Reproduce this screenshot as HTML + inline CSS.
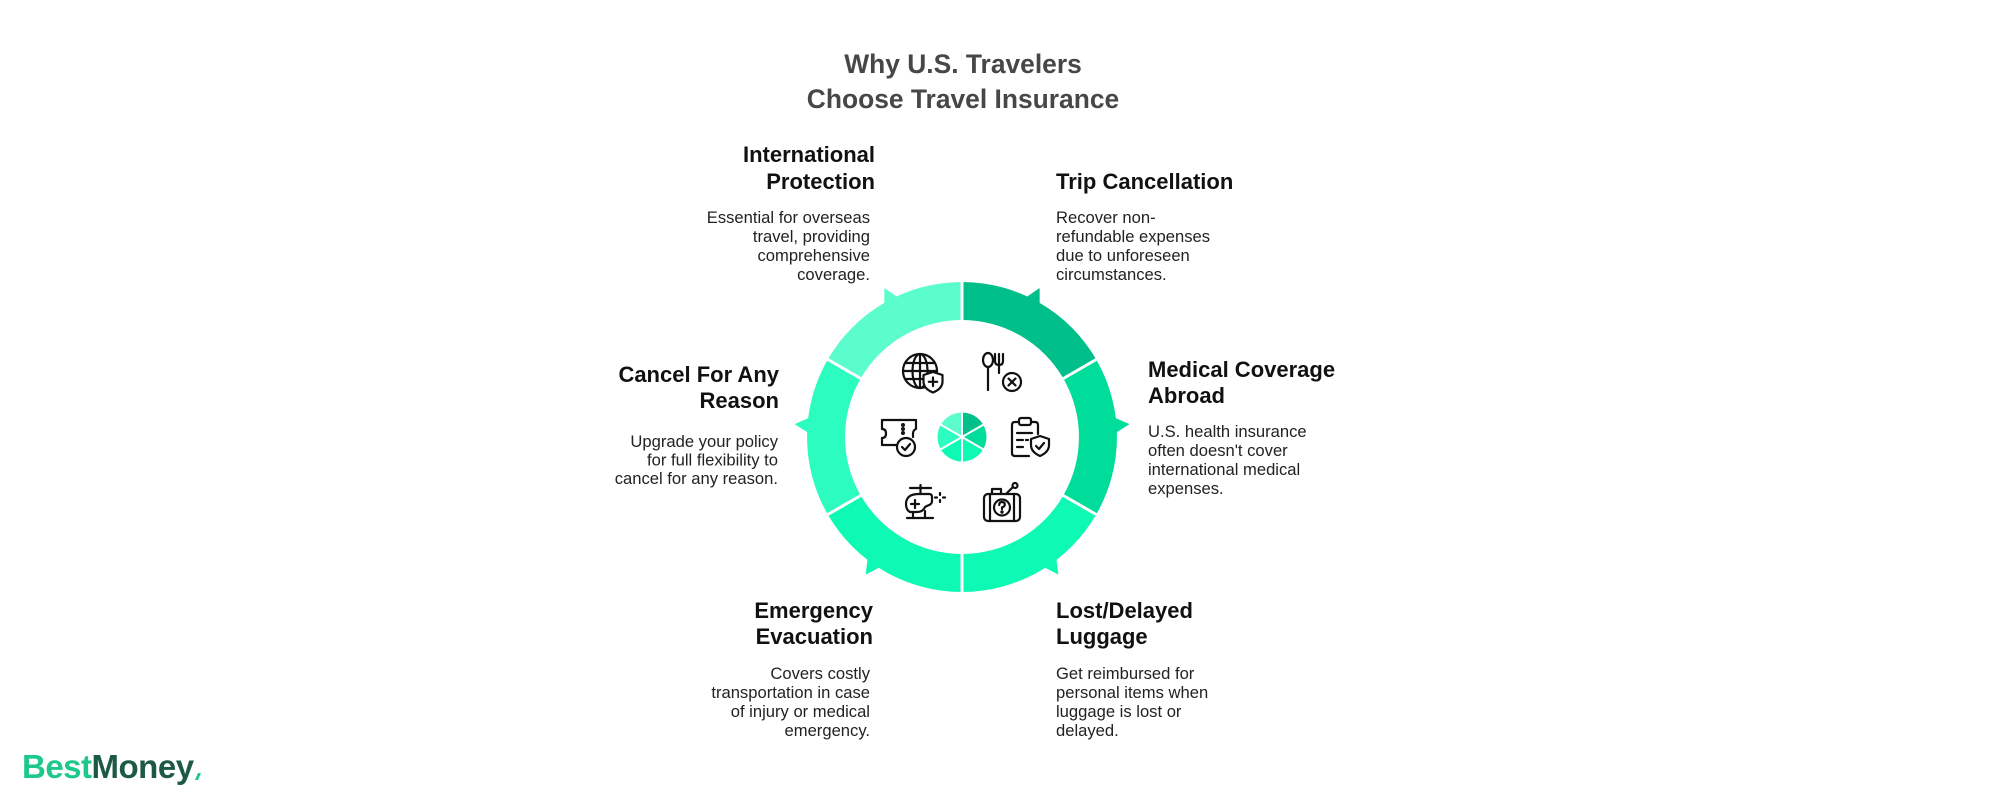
<!DOCTYPE html>
<html>
<head>
<meta charset="utf-8">
<style>
  html,body{margin:0;padding:0;background:#ffffff;}
  body{width:2000px;height:800px;overflow:hidden;}
  svg{display:block;}
</style>
</head>
<body>
<svg width="2000" height="800" viewBox="0 0 2000 800" xmlns="http://www.w3.org/2000/svg">
  <rect width="2000" height="800" fill="#ffffff"/>

  <!-- Title -->
  <g font-family="Liberation Sans, Arial, sans-serif" font-weight="bold" font-size="26.4" fill="#474747" text-anchor="middle">
    <text x="963" y="73">Why U.S. Travelers</text>
    <text x="963" y="108">Choose Travel Insurance</text>
  </g>

  <!-- Ring segments -->
  <g>
    <path d="M962 282 A155 155 0 0 1 1096.2 359.5 L1063.3 378.5 A117 117 0 0 0 962 320 Z" fill="#00bf8a"/>
    <path d="M1096.2 359.5 A155 155 0 0 1 1096.2 514.5 L1063.3 495.5 A117 117 0 0 0 1063.3 378.5 Z" fill="#00dd9a"/>
    <path d="M1096.2 514.5 A155 155 0 0 1 962 592 L962 554 A117 117 0 0 0 1063.3 495.5 Z" fill="#0ef9b4"/>
    <path d="M962 592 A155 155 0 0 1 827.8 514.5 L860.7 495.5 A117 117 0 0 0 962 554 Z" fill="#0ef9b4"/>
    <path d="M827.8 514.5 A155 155 0 0 1 827.8 359.5 L860.7 378.5 A117 117 0 0 0 860.7 495.5 Z" fill="#2cfcc0"/>
    <path d="M827.8 359.5 A155 155 0 0 1 962 282 L962 320 A117 117 0 0 0 860.7 378.5 Z" fill="#5cfdcd"/>
  </g>
  <!-- Arrow tips -->
  <g>
    <polygon points="1026.4,297.1 1039.6,288.0 1039.7,304.0" fill="#00bf8a"/>
    <polygon points="1114.8,417.7 1129.5,424.1 1115.9,432.7" fill="#00dd9a"/>
    <polygon points="1056.4,558.7 1058.4,574.6 1044.1,567.3" fill="#0ef9b4"/>
    <polygon points="867.6,558.7 865.6,574.6 879.9,567.3" fill="#0ef9b4"/>
    <polygon points="809.2,417.7 794.5,424.1 808.1,432.7" fill="#2cfcc0"/>
    <polygon points="897.6,297.1 884.4,288.0 884.3,304.0" fill="#5cfdcd"/>
  </g>
  <!-- separators -->
  <g stroke="#ffffff" stroke-width="3">
    <line x1="962" y1="323" x2="962" y2="279"/>
    <line x1="1060.7" y1="380" x2="1098.8" y2="358"/>
    <line x1="1060.7" y1="494" x2="1098.8" y2="516"/>
    <line x1="962" y1="551" x2="962" y2="595"/>
    <line x1="863.3" y1="494" x2="825.2" y2="516"/>
    <line x1="863.3" y1="380" x2="825.2" y2="358"/>
  </g>

  <!-- Mini pie -->
  <g>
    <path d="M962 437 L962 412.5 A24.5 24.5 0 0 1 983.2 424.75 Z" fill="#00bf8a"/>
    <path d="M962 437 L983.2 424.75 A24.5 24.5 0 0 1 983.2 449.25 Z" fill="#00dd9a"/>
    <path d="M962 437 L983.2 449.25 A24.5 24.5 0 0 1 962 461.5 Z" fill="#0ef9b4"/>
    <path d="M962 437 L962 461.5 A24.5 24.5 0 0 1 940.8 449.25 Z" fill="#0ef9b4"/>
    <path d="M962 437 L940.8 449.25 A24.5 24.5 0 0 1 940.8 424.75 Z" fill="#2cfcc0"/>
    <path d="M962 437 L940.8 424.75 A24.5 24.5 0 0 1 962 412.5 Z" fill="#5cfdcd"/>
    <g stroke="#ffffff" stroke-width="2">
      <line x1="962" y1="437" x2="962" y2="411"/>
      <line x1="962" y1="437" x2="984.5" y2="424"/>
      <line x1="962" y1="437" x2="984.5" y2="450"/>
      <line x1="962" y1="437" x2="962" y2="463"/>
      <line x1="962" y1="437" x2="939.5" y2="450"/>
      <line x1="962" y1="437" x2="939.5" y2="424"/>
    </g>
  </g>

  <!-- Icons -->
  <g fill="none" stroke="#111111" stroke-width="2.2" stroke-linecap="round" stroke-linejoin="round">
    <!-- Globe + shield -->
    <g transform="translate(903,352)">
      <circle cx="17" cy="19" r="17"/>
      <ellipse cx="17" cy="19" rx="7.5" ry="17"/>
      <line x1="17" y1="2" x2="17" y2="36"/>
      <line x1="0" y1="19" x2="34" y2="19"/>
      <path d="M3 11 H31"/>
      <path d="M3 27 H22"/>
      <path d="M30 20 L39.5 23 V29.5 C39.5 35 35 38.5 30 40.5 C25 38.5 20.5 35 20.5 29.5 V23 Z" fill="#ffffff"/>
      <path d="M30 25.5 V34 M25.8 29.8 H34.2"/>
    </g>
    <!-- Spoon/fork + X -->
    <g transform="translate(982,352)">
      <ellipse cx="6" cy="8" rx="5" ry="7"/>
      <line x1="6" y1="15" x2="6" y2="38"/>
      <path d="M13 2 V9 Q13 13 17 13 Q21 13 21 9 V2"/>
      <line x1="17" y1="2" x2="17" y2="21"/>
      <circle cx="30" cy="30" r="9" fill="#ffffff"/>
      <path d="M26.5 26.5 L33.5 33.5 M33.5 26.5 L26.5 33.5"/>
    </g>
    <!-- Ticket + check -->
    <g transform="translate(880,417)">
      <path d="M17 28 H2 V21 Q6 21 6 16.5 Q6 12 2 12 V3 H36 V12 Q33 13 33 17 V20"/>
      <circle cx="23" cy="8" r="0.9"/>
      <circle cx="23" cy="12" r="0.9"/>
      <circle cx="23" cy="16" r="0.9"/>
      <circle cx="26" cy="30" r="9" fill="#ffffff"/>
      <path d="M22 30 L25 33 L30 27"/>
    </g>
    <!-- Clipboard + shield -->
    <g transform="translate(1010,416)">
      <path d="M19 40 H5 Q2 40 2 37 V9 Q2 6 5 6 H25 Q28 6 28 9 V18"/>
      <rect x="9" y="2" width="12" height="7" rx="2" fill="#ffffff"/>
      <path d="M7 17 H22"/>
      <path d="M7 24 H13 M16 24 H18"/>
      <path d="M7 31 H13"/>
      <path d="M30 20 L39 23 V29 C39 35 34.5 38 30 40 C25.5 38 21 35 21 29 V23 Z" fill="#ffffff"/>
      <path d="M26 30 L29 33 L34 27"/>
    </g>
    <!-- Helicopter -->
    <g transform="translate(903,484)">
      <path d="M7 4 H28"/>
      <path d="M17.5 1 V10"/>
      <path d="M7 28 Q3 26 3 20 Q3 10 16 10 H26 Q29 10 29 13 V17 Q29 20 26 21 L22 23 Q20 28 14 28 Z"/>
      <path d="M12 16 V24 M8 20 H16"/>
      <path d="M4 34 H30"/>
      <path d="M10 28 V34 M22 27 V34"/>
      <path d="M37 9 V11 M37 16 V18 M32 13.5 H34 M40 13.5 H42"/>
    </g>
    <!-- Luggage + question -->
    <g transform="translate(982,482)">
      <rect x="2" y="12" width="36" height="27" rx="4"/>
      <line x1="8" y1="12" x2="8" y2="39"/>
      <line x1="32" y1="12" x2="32" y2="39"/>
      <path d="M10 12 V7 H19 V12"/>
      <path d="M24 12 L31 5"/>
      <circle cx="33" cy="3.5" r="2.5"/>
      <circle cx="20" cy="25.5" r="8"/>
      <path d="M17.2 23 Q17.2 20 20 20 Q22.8 20 22.8 22.6 Q22.8 24.4 20 25.4 V27"/>
      <circle cx="20" cy="30" r="0.6" fill="#111111"/>
    </g>
  </g>

  <!-- Section texts -->
  <g font-family="Liberation Sans, Arial, sans-serif">
    <!-- International Protection -->
    <g font-weight="bold" font-size="22" fill="#111111" text-anchor="end">
      <text x="875" y="162">International</text>
      <text x="875" y="189">Protection</text>
    </g>
    <g font-size="16.6" fill="#222222" text-anchor="end">
      <text x="870" y="223">Essential for overseas</text>
      <text x="870" y="242">travel, providing</text>
      <text x="870" y="261">comprehensive</text>
      <text x="870" y="280">coverage.</text>
    </g>

    <!-- Trip Cancellation -->
    <g font-weight="bold" font-size="22" fill="#111111">
      <text x="1056" y="189">Trip Cancellation</text>
    </g>
    <g font-size="16.6" fill="#222222">
      <text x="1056" y="223">Recover non-</text>
      <text x="1056" y="242">refundable expenses</text>
      <text x="1056" y="261">due to unforeseen</text>
      <text x="1056" y="280">circumstances.</text>
    </g>

    <!-- Cancel For Any Reason -->
    <g font-weight="bold" font-size="22" fill="#111111" text-anchor="end">
      <text x="779" y="382">Cancel For Any</text>
      <text x="779" y="408">Reason</text>
    </g>
    <g font-size="16.6" fill="#222222" text-anchor="end">
      <text x="778" y="447">Upgrade your policy</text>
      <text x="778" y="465.5">for full flexibility to</text>
      <text x="778" y="484">cancel for any reason.</text>
    </g>

    <!-- Medical Coverage Abroad -->
    <g font-weight="bold" font-size="22" fill="#111111">
      <text x="1148" y="377">Medical Coverage</text>
      <text x="1148" y="403">Abroad</text>
    </g>
    <g font-size="16.6" fill="#222222">
      <text x="1148" y="437">U.S. health insurance</text>
      <text x="1148" y="456">often doesn't cover</text>
      <text x="1148" y="475">international medical</text>
      <text x="1148" y="494">expenses.</text>
    </g>

    <!-- Emergency Evacuation -->
    <g font-weight="bold" font-size="22" fill="#111111" text-anchor="end">
      <text x="873" y="618">Emergency</text>
      <text x="873" y="644">Evacuation</text>
    </g>
    <g font-size="16.6" fill="#222222" text-anchor="end">
      <text x="870" y="679">Covers costly</text>
      <text x="870" y="698">transportation in case</text>
      <text x="870" y="717">of injury or medical</text>
      <text x="870" y="736">emergency.</text>
    </g>

    <!-- Lost/Delayed Luggage -->
    <g font-weight="bold" font-size="22" fill="#111111">
      <text x="1056" y="618">Lost/Delayed</text>
      <text x="1056" y="644">Luggage</text>
    </g>
    <g font-size="16.6" fill="#222222">
      <text x="1056" y="679">Get reimbursed for</text>
      <text x="1056" y="698">personal items when</text>
      <text x="1056" y="717">luggage is lost or</text>
      <text x="1056" y="736">delayed.</text>
    </g>
  </g>

  <!-- Logo -->
  <g font-family="Liberation Sans, Arial, sans-serif" font-weight="bold" font-size="33">
    <text x="22" y="778" letter-spacing="-0.5"><tspan fill="#1dc98a">Best</tspan><tspan fill="#1d5a45">Money</tspan></text>
  </g>
  <path d="M195 780 L198 773 L201 773 L198 780 Z" fill="#1dc98a"/>
</svg>
</body>
</html>
